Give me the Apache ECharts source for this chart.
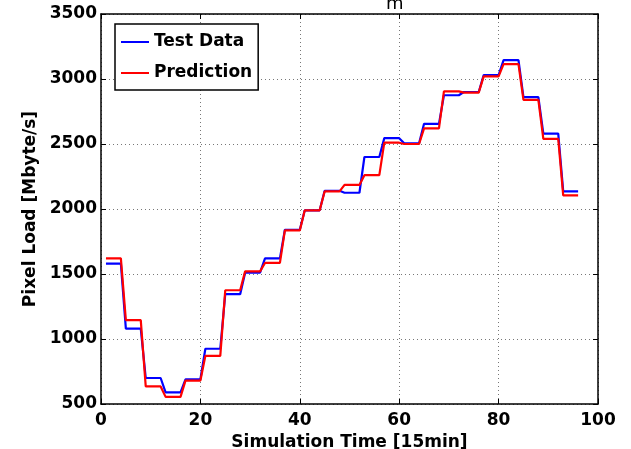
<!DOCTYPE html>
<html>
<head>
<meta charset="utf-8">
<script src="https://cdn.jsdelivr.net/npm/echarts@6/dist/echarts.min.js"></script>
<style>
  html, body { margin: 0; padding: 0; background: #fff; }
  #main { width: 631px; height: 449px; }
</style>
</head>
<body>
<div id="main"></div>
<script>
// sample index (15 min steps)
var steps = [];
for (var i = 1; i <= 96; i++) steps.push(i);

var testData = [
  1580, 1580, 1580, 1580,  1080, 1080, 1080, 1080,  700, 700, 700, 700,  590, 590, 590, 590,
  690, 690, 690, 690,  925, 925, 925, 925,  1345, 1345, 1345, 1345,  1510, 1510, 1510, 1510,
  1620, 1620, 1620, 1620,  1840, 1840, 1840, 1840,  1990, 1990, 1990, 1990,  2140, 2140, 2140, 2140,
  2125, 2125, 2125, 2125,  2400, 2400, 2400, 2400,  2545, 2545, 2545, 2545,  2505, 2505, 2505, 2505,
  2655, 2655, 2655, 2655,  2875, 2875, 2875, 2875,  2900, 2900, 2900, 2900,  3030, 3030, 3030, 3030,
  3145, 3145, 3145, 3145,  2860, 2860, 2860, 2860,  2580, 2580, 2580, 2580,  2135, 2135, 2135, 2135
];

var prediction = [
  1620, 1620, 1620, 1620,  1145, 1145, 1145, 1145,  635, 635, 635, 635,  555, 555, 555, 555,
  680, 680, 680, 680,  870, 870, 870, 870,  1375, 1375, 1375, 1375,  1520, 1520, 1520, 1520,
  1585, 1585, 1585, 1585,  1835, 1835, 1835, 1835,  1990, 1990, 1990, 1990,  2135, 2135, 2135, 2135,
  2185, 2185, 2185, 2185,  2260, 2260, 2260, 2260,  2510, 2510, 2510, 2510,  2500, 2500, 2500, 2500,
  2620, 2620, 2620, 2620,  2905, 2905, 2905, 2905,  2895, 2895, 2895, 2895,  3020, 3020, 3020, 3020,
  3115, 3115, 3115, 3115,  2840, 2840, 2840, 2840,  2540, 2540, 2540, 2540,  2105, 2105, 2105, 2105
];

function pairs(ys) {
  return steps.map(function (x, k) { return [x, ys[k]]; });
}

var chart = echarts.init(document.getElementById('main'));

var lbl = { color: '#000', fontSize: 17, fontWeight: 'bold', fontFamily: 'DejaVu Sans' };
var boxLine = { show: true, onZero: false, lineStyle: { color: '#000', width: 1.5 } };
var tick = { show: true, inside: true, length: 5, lineStyle: { color: '#000', width: 1 } };
var dotted = { show: true, lineStyle: { color: '#777', width: 1, type: [1, 3] } };
var plain = function (v) { return String(v); };

var option = {
  animation: false,
  textStyle: { fontFamily: 'DejaVu Sans' },
  grid: { left: 101, right: 33, top: 14, bottom: 45, outerBoundsMode: 'none' },
  graphic: [{
    type: 'text', left: 386, top: -5,
    style: { text: 'm', font: '18px "DejaVu Sans"', fill: '#000' }
  }],
  legend: {
    left: 115, top: 24,
    orient: 'vertical',
    icon: 'rect',
    padding: [9, 6, 8, 6],
    itemGap: 13,
    itemWidth: 28,
    itemHeight: 2,
    borderColor: '#000',
    borderWidth: 1.5,
    backgroundColor: '#fff',
    textStyle: { color: '#000', fontSize: 17, fontWeight: 'bold', lineHeight: 18, fontFamily: 'DejaVu Sans' },
    data: ['Test Data', 'Prediction']
  },
  xAxis: [{
    type: 'value', min: 0, max: 100, interval: 20,
    name: 'Simulation Time [15min]', nameLocation: 'middle', nameGap: 23,
    nameTextStyle: lbl,
    axisLine: boxLine, axisTick: tick,
    axisLabel: Object.assign({ margin: 8, formatter: plain }, lbl),
    splitLine: dotted
  }, {
    type: 'value', position: 'top', min: 0, max: 100, interval: 20,
    axisLine: boxLine, axisTick: tick, axisLabel: { show: false }, splitLine: { show: false }
  }],
  yAxis: [{
    type: 'value', min: 500, max: 3500, interval: 500,
    name: 'Pixel Load [Mbyte/s]', nameLocation: 'middle', nameGap: 37,
    nameTextStyle: lbl,
    axisLine: boxLine, axisTick: tick,
    axisLabel: Object.assign({ margin: 4, formatter: plain }, lbl),
    splitLine: dotted
  }, {
    type: 'value', position: 'right', min: 500, max: 3500, interval: 500,
    axisLine: boxLine, axisTick: tick, axisLabel: { show: false }, splitLine: { show: false }
  }],
  series: [{
    name: 'Test Data', type: 'line', symbol: 'none',
    lineStyle: { color: '#0000ff', width: 2.2 },
    itemStyle: { color: '#0000ff' },
    data: pairs(testData)
  }, {
    name: 'Prediction', type: 'line', symbol: 'none',
    lineStyle: { color: '#ff0000', width: 2.2 },
    itemStyle: { color: '#ff0000' },
    data: pairs(prediction)
  }]
};

chart.setOption(option);
</script>
</body>
</html>
